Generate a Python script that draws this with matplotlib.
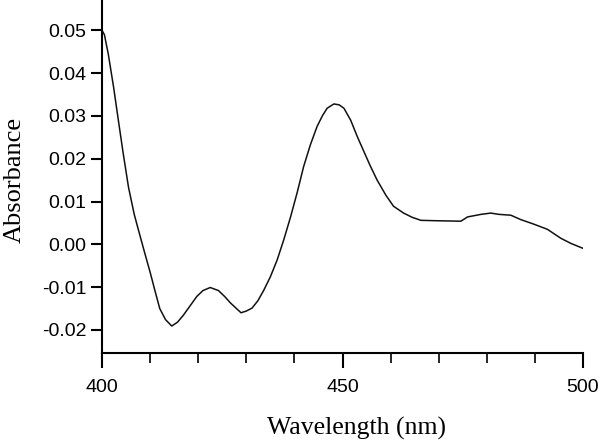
import matplotlib.pyplot as plt
from matplotlib.ticker import MultipleLocator

# absorbance spectrum
wavelength = [400.0, 400.5, 401.3, 402.4, 403.4, 404.4, 405.5, 406.7, 407.9, 409.0,
              410.0, 411.0, 412.0, 413.2, 414.5, 415.7, 416.9, 418.3, 419.7, 421.0,
              422.5, 424.2, 425.5, 426.7, 428.9, 430.0, 431.2, 432.4, 433.6, 435.0,
              436.4, 437.8, 439.2, 440.6, 441.9, 443.3, 444.7, 445.8, 446.8, 448.2,
              449.3, 450.3, 451.7, 453.1, 454.4, 455.7, 457.2, 459.0, 460.6, 462.7,
              464.5, 466.3, 470.0, 474.6, 476.0, 478.8, 480.8, 482.5, 485.0, 487.0,
              489.8, 492.6, 495.4, 497.5, 499.9]
absorbance = [0.0500, 0.0490, 0.0445, 0.0368, 0.0290, 0.0213, 0.0134, 0.0070, 0.0020, -0.0025,
              -0.0065, -0.0108, -0.0150, -0.0176, -0.0191, -0.0182, -0.0166, -0.0144, -0.0122, -0.0108,
              -0.0101, -0.0108, -0.0122, -0.0137, -0.0160, -0.0156, -0.0149, -0.0132, -0.0108, -0.0076,
              -0.0037, 0.0011, 0.0064, 0.0122, 0.0181, 0.0232, 0.0275, 0.0300, 0.0318, 0.0328,
              0.0326, 0.0318, 0.0290, 0.0251, 0.0218, 0.0185, 0.0150, 0.0115, 0.0089, 0.0073,
              0.0063, 0.0056, 0.0055, 0.0054, 0.0064, 0.0070, 0.0073, 0.0070, 0.0068, 0.0058,
              0.0047, 0.0035, 0.0014, 0.0002, -0.0009]

y_ticks = [-0.02, -0.01, 0.00, 0.01, 0.02, 0.03, 0.04, 0.05]
x_ticks = [400, 450, 500]

fig = plt.figure(figsize=(6, 4.42), dpi=100)
ax = fig.add_axes([0.17, 0.2014, 0.8017, 0.7986])

ax.plot(wavelength, absorbance, color="#111111", linewidth=1.1)

ax.set_xlim(400, 500)
ax.set_ylim(-0.0254, 0.0571)
ax.set_xticks(x_ticks)
ax.set_yticks(y_ticks)
ax.set_yticklabels(["%.2f" % v for v in y_ticks])
ax.xaxis.set_minor_locator(MultipleLocator(10))

for s in ["top", "right"]:
    ax.spines[s].set_visible(False)
for s in ["left", "bottom"]:
    ax.spines[s].set_linewidth(1.5)

tick_font = "Liberation Sans"
ax.tick_params(axis="x", which="major", direction="out", length=11, width=1.5,
               pad=8, labelsize=14)
ax.tick_params(axis="x", which="minor", direction="out", length=7, width=1.2)
ax.tick_params(axis="y", which="major", direction="out", length=8, width=1.5,
               pad=3, labelsize=14)
for lab in ax.get_xticklabels() + ax.get_yticklabels():
    lab.set_fontfamily(tick_font)

ax.set_xlabel("Wavelength (nm)", fontfamily="Liberation Serif", fontsize=18.5)
ax.set_ylabel("Absorbance", fontfamily="Liberation Serif", fontsize=19)
ax.xaxis.set_label_coords(0.529, -0.18)
ax.yaxis.set_label_coords(-0.158, 0.49)

fig.savefig("out.png", dpi=100)
